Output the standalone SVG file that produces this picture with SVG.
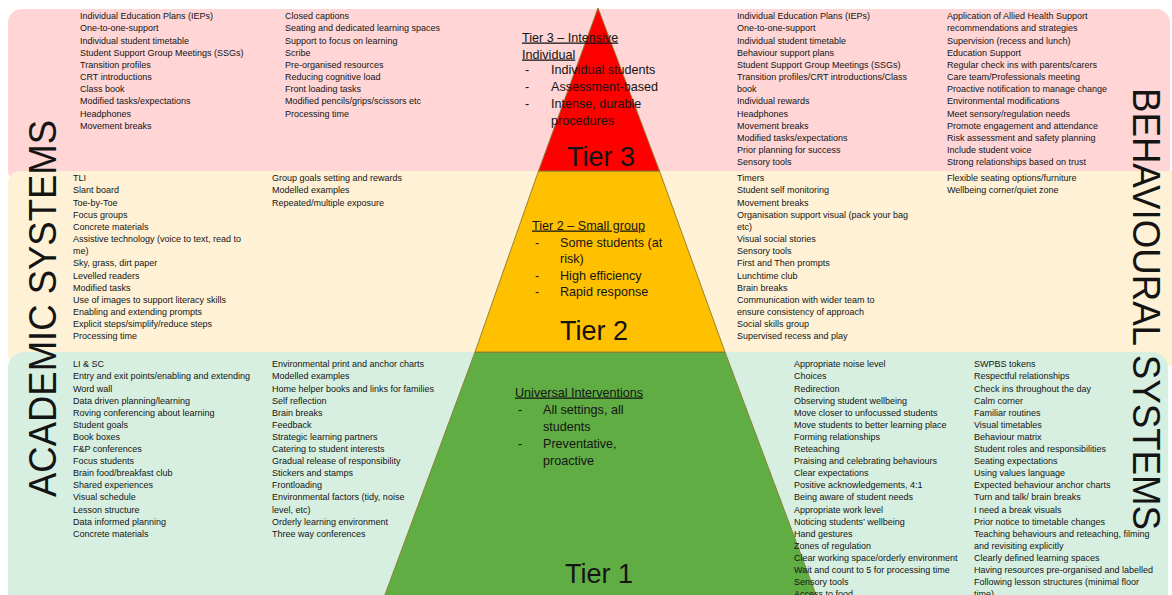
<svg xmlns="http://www.w3.org/2000/svg" width="1172" height="595" viewBox="0 0 1172 595">
<style>
text{font-family:"Liberation Sans",Arial,sans-serif;fill:#141414}
.s{font-size:9px}
.h{font-size:12.6px}
.u{text-decoration:underline}
.big{font-size:27px}
.side{font-size:38px}
.tier{stroke:#8a7a30;stroke-width:0.9}
</style>
<rect width="1172" height="595" fill="#ffffff"/>
<g id="bands">
<rect id="band-tier3" x="8" y="9" width="1162" height="175" rx="14" fill="#ffd5d5"/>
<rect id="band-tier2" x="8" y="171" width="1180" height="195" rx="12" fill="#fff1d6"/>
<rect id="band-tier1" x="8" y="352" width="1160" height="270" rx="16" fill="#d7efe0"/>
</g>
<g id="pyramid">
<g id="tier1"><polygon class="tier" points="475,352 725,352 818,600 383,600" fill="#60ad44"/></g>
<g id="tier2"><polygon class="tier" points="538.5,171 659.5,171 725,352 475,352" fill="#ffc000"/></g>
<g id="tier3"><polygon class="tier" points="598,8 659.5,171 538.5,171" fill="#ff0000"/></g>
</g>
<g id="connectors"></g>
<g id="tier3-label">
<text class="h u" x="522" y="41.5">Tier 3 – Intensive</text>
<text class="h u" x="522" y="58.5">Individual</text>
<text class="h"><tspan x="525" y="73.5">-</tspan><tspan x="551" y="73.5">Individual students</tspan><tspan x="525" y="90.5">-</tspan><tspan x="551" y="90.5">Assessment-based</tspan><tspan x="525" y="107.5">-</tspan><tspan x="551" y="107.5">Intense, durable</tspan><tspan x="551" y="124.5">procedures</tspan></text>
<text class="big" x="567" y="165.5">Tier 3</text>
</g>
<g id="tier2-label">
<text class="h u" x="532" y="229.5">Tier 2 – Small group</text>
<text class="h"><tspan x="535" y="246.5">-</tspan><tspan x="560" y="246.5">Some students (at</tspan><tspan x="560" y="263">risk)</tspan><tspan x="535" y="279.5">-</tspan><tspan x="560" y="279.5">High efficiency</tspan><tspan x="535" y="296">-</tspan><tspan x="560" y="296">Rapid response</tspan></text>
<text class="big" x="560" y="339.5">Tier 2</text>
</g>
<g id="tier1-label">
<text class="h u" x="515" y="396.5">Universal Interventions</text>
<text class="h"><tspan x="518" y="413.5">-</tspan><tspan x="543" y="413.5">All settings, all</tspan><tspan x="543" y="430.5">students</tspan><tspan x="518" y="447.5">-</tspan><tspan x="543" y="447.5">Preventative,</tspan><tspan x="543" y="464.5">proactive</tspan></text>
<text class="big" x="565" y="582.5">Tier 1</text>
</g>
<g id="academic-tier3">
<text class="s"><tspan x="80" y="19.3">Individual Education Plans (IEPs)</tspan><tspan x="80" dy="12.15">One-to-one-support</tspan><tspan x="80" dy="12.15">Individual student timetable</tspan><tspan x="80" dy="12.15">Student Support Group Meetings (SSGs)</tspan><tspan x="80" dy="12.15">Transition profiles</tspan><tspan x="80" dy="12.15">CRT introductions</tspan><tspan x="80" dy="12.15">Class book</tspan><tspan x="80" dy="12.15">Modified tasks/expectations</tspan><tspan x="80" dy="12.15">Headphones</tspan><tspan x="80" dy="12.15">Movement breaks</tspan></text>
<text class="s"><tspan x="285" y="19.3">Closed captions</tspan><tspan x="285" dy="12.15">Seating and dedicated learning spaces</tspan><tspan x="285" dy="12.15">Support to focus on learning</tspan><tspan x="285" dy="12.15">Scribe</tspan><tspan x="285" dy="12.15">Pre-organised resources</tspan><tspan x="285" dy="12.15">Reducing cognitive load</tspan><tspan x="285" dy="12.15">Front loading tasks</tspan><tspan x="285" dy="12.15">Modified pencils/grips/scissors etc</tspan><tspan x="285" dy="12.15">Processing time</tspan></text>
</g>
<g id="behavioural-tier3">
<text class="s"><tspan x="737" y="19.3">Individual Education Plans (IEPs)</tspan><tspan x="737" dy="12.15">One-to-one-support</tspan><tspan x="737" dy="12.15">Individual student timetable</tspan><tspan x="737" dy="12.15">Behaviour support plans</tspan><tspan x="737" dy="12.15">Student Support Group Meetings (SSGs)</tspan><tspan x="737" dy="12.15">Transition profiles/CRT introductions/Class</tspan><tspan x="737" dy="12.15">book</tspan><tspan x="737" dy="12.15">Individual rewards</tspan><tspan x="737" dy="12.15">Headphones</tspan><tspan x="737" dy="12.15">Movement breaks</tspan><tspan x="737" dy="12.15">Modified tasks/expectations</tspan><tspan x="737" dy="12.15">Prior planning for success</tspan><tspan x="737" dy="12.15">Sensory tools</tspan></text>
<text class="s"><tspan x="947" y="19.3">Application of Allied Health Support</tspan><tspan x="947" dy="12.15">recommendations and strategies</tspan><tspan x="947" dy="12.15">Supervision (recess and lunch)</tspan><tspan x="947" dy="12.15">Education Support</tspan><tspan x="947" dy="12.15">Regular check ins with parents/carers</tspan><tspan x="947" dy="12.15">Care team/Professionals meeting</tspan><tspan x="947" dy="12.15">Proactive notification to manage change</tspan><tspan x="947" dy="12.15">Environmental modifications</tspan><tspan x="947" dy="12.15">Meet sensory/regulation needs</tspan><tspan x="947" dy="12.15">Promote engagement and attendance</tspan><tspan x="947" dy="12.15">Risk assessment and safety planning</tspan><tspan x="947" dy="12.15">Include student voice</tspan><tspan x="947" dy="12.15">Strong relationships based on trust</tspan></text>
</g>
<g id="academic-tier2">
<text class="s"><tspan x="73" y="181.3">TLI</tspan><tspan x="73" dy="12.15">Slant board</tspan><tspan x="73" dy="12.15">Toe-by-Toe</tspan><tspan x="73" dy="12.15">Focus groups</tspan><tspan x="73" dy="12.15">Concrete materials</tspan><tspan x="73" dy="12.15">Assistive technology (voice to text, read to</tspan><tspan x="73" dy="12.15">me)</tspan><tspan x="73" dy="12.15">Sky, grass, dirt paper</tspan><tspan x="73" dy="12.15">Levelled readers</tspan><tspan x="73" dy="12.15">Modified tasks</tspan><tspan x="73" dy="12.15">Use of images to support literacy skills</tspan><tspan x="73" dy="12.15">Enabling and extending prompts</tspan><tspan x="73" dy="12.15">Explicit steps/simplify/reduce steps</tspan><tspan x="73" dy="12.15">Processing time</tspan></text>
<text class="s"><tspan x="272" y="181.3">Group goals setting and rewards</tspan><tspan x="272" dy="12.15">Modelled examples</tspan><tspan x="272" dy="12.15">Repeated/multiple exposure</tspan></text>
</g>
<g id="behavioural-tier2">
<text class="s"><tspan x="737" y="181.3">Timers</tspan><tspan x="737" dy="12.15">Student self monitoring</tspan><tspan x="737" dy="12.15">Movement breaks</tspan><tspan x="737" dy="12.15">Organisation support visual (pack your bag</tspan><tspan x="737" dy="12.15">etc)</tspan><tspan x="737" dy="12.15">Visual social stories</tspan><tspan x="737" dy="12.15">Sensory tools</tspan><tspan x="737" dy="12.15">First and Then prompts</tspan><tspan x="737" dy="12.15">Lunchtime club</tspan><tspan x="737" dy="12.15">Brain breaks</tspan><tspan x="737" dy="12.15">Communication with wider team to</tspan><tspan x="737" dy="12.15">ensure consistency of approach</tspan><tspan x="737" dy="12.15">Social skills group</tspan><tspan x="737" dy="12.15">Supervised recess and play</tspan></text>
<text class="s"><tspan x="947" y="181.3">Flexible seating options/furniture</tspan><tspan x="947" dy="12.15">Wellbeing corner/quiet zone</tspan></text>
</g>
<g id="academic-tier1">
<text class="s"><tspan x="73" y="367.3">LI &amp; SC</tspan><tspan x="73" dy="12.1">Entry and exit points/enabling and extending</tspan><tspan x="73" dy="12.1">Word wall</tspan><tspan x="73" dy="12.1">Data driven planning/learning</tspan><tspan x="73" dy="12.1">Roving conferencing about learning</tspan><tspan x="73" dy="12.1">Student goals</tspan><tspan x="73" dy="12.1">Book boxes</tspan><tspan x="73" dy="12.1">F&amp;P conferences</tspan><tspan x="73" dy="12.1">Focus students</tspan><tspan x="73" dy="12.1">Brain food/breakfast club</tspan><tspan x="73" dy="12.1">Shared experiences</tspan><tspan x="73" dy="12.1">Visual schedule</tspan><tspan x="73" dy="12.1">Lesson structure</tspan><tspan x="73" dy="12.1">Data informed planning</tspan><tspan x="73" dy="12.1">Concrete materials</tspan></text>
<text class="s"><tspan x="272" y="367.3">Environmental print and anchor charts</tspan><tspan x="272" dy="12.1">Modelled examples</tspan><tspan x="272" dy="12.1">Home helper books and links for families</tspan><tspan x="272" dy="12.1">Self reflection</tspan><tspan x="272" dy="12.1">Brain breaks</tspan><tspan x="272" dy="12.1">Feedback</tspan><tspan x="272" dy="12.1">Strategic learning partners</tspan><tspan x="272" dy="12.1">Catering to student interests</tspan><tspan x="272" dy="12.1">Gradual release of responsibility</tspan><tspan x="272" dy="12.1">Stickers and stamps</tspan><tspan x="272" dy="12.1">Frontloading</tspan><tspan x="272" dy="12.1">Environmental factors (tidy, noise</tspan><tspan x="272" dy="12.1">level, etc)</tspan><tspan x="272" dy="12.1">Orderly learning environment</tspan><tspan x="272" dy="12.1">Three way conferences</tspan></text>
</g>
<g id="behavioural-tier1">
<text class="s"><tspan x="794" y="367.3">Appropriate noise level</tspan><tspan x="794" dy="12.1">Choices</tspan><tspan x="794" dy="12.1">Redirection</tspan><tspan x="794" dy="12.1">Observing student wellbeing</tspan><tspan x="794" dy="12.1">Move closer to unfocussed students</tspan><tspan x="794" dy="12.1">Move students to better learning place</tspan><tspan x="794" dy="12.1">Forming relationships</tspan><tspan x="794" dy="12.1">Reteaching</tspan><tspan x="794" dy="12.1">Praising and celebrating behaviours</tspan><tspan x="794" dy="12.1">Clear expectations</tspan><tspan x="794" dy="12.1">Positive acknowledgements, 4:1</tspan><tspan x="794" dy="12.1">Being aware of student needs</tspan><tspan x="794" dy="12.1">Appropriate work level</tspan><tspan x="794" dy="12.1">Noticing students’ wellbeing</tspan><tspan x="794" dy="12.1">Hand gestures</tspan><tspan x="794" dy="12.1">Zones of regulation</tspan><tspan x="794" dy="12.1">Clear working space/orderly environment</tspan><tspan x="794" dy="12.1">Wait and count to 5 for processing time</tspan><tspan x="794" dy="12.1">Sensory tools</tspan><tspan x="794" dy="12.1">Access to food</tspan></text>
<text class="s"><tspan x="974" y="367.3">SWPBS tokens</tspan><tspan x="974" dy="12.1">Respectful relationships</tspan><tspan x="974" dy="12.1">Check ins throughout the day</tspan><tspan x="974" dy="12.1">Calm corner</tspan><tspan x="974" dy="12.1">Familiar routines</tspan><tspan x="974" dy="12.1">Visual timetables</tspan><tspan x="974" dy="12.1">Behaviour matrix</tspan><tspan x="974" dy="12.1">Student roles and responsibilities</tspan><tspan x="974" dy="12.1">Seating expectations</tspan><tspan x="974" dy="12.1">Using values language</tspan><tspan x="974" dy="12.1">Expected behaviour anchor charts</tspan><tspan x="974" dy="12.1">Turn and talk/ brain breaks</tspan><tspan x="974" dy="12.1">I need a break visuals</tspan><tspan x="974" dy="12.1">Prior notice to timetable changes</tspan><tspan x="974" dy="12.1">Teaching behaviours and reteaching, filming</tspan><tspan x="974" dy="12.1">and revisiting explicitly</tspan><tspan x="974" dy="12.1">Clearly defined learning spaces</tspan><tspan x="974" dy="12.1">Having resources pre-organised and labelled</tspan><tspan x="974" dy="12.1">Following lesson structures (minimal floor</tspan><tspan x="974" dy="12.1">time)</tspan></text>
</g>
<g id="side-labels">
<text class="side" transform="translate(56,497) rotate(-90)" textLength="377" lengthAdjust="spacingAndGlyphs">ACADEMIC SYSTEMS</text>
<text class="side" transform="translate(1133,88) rotate(90)" textLength="442" lengthAdjust="spacingAndGlyphs">BEHAVIOURAL SYSTEMS</text>
</g>
</svg>
